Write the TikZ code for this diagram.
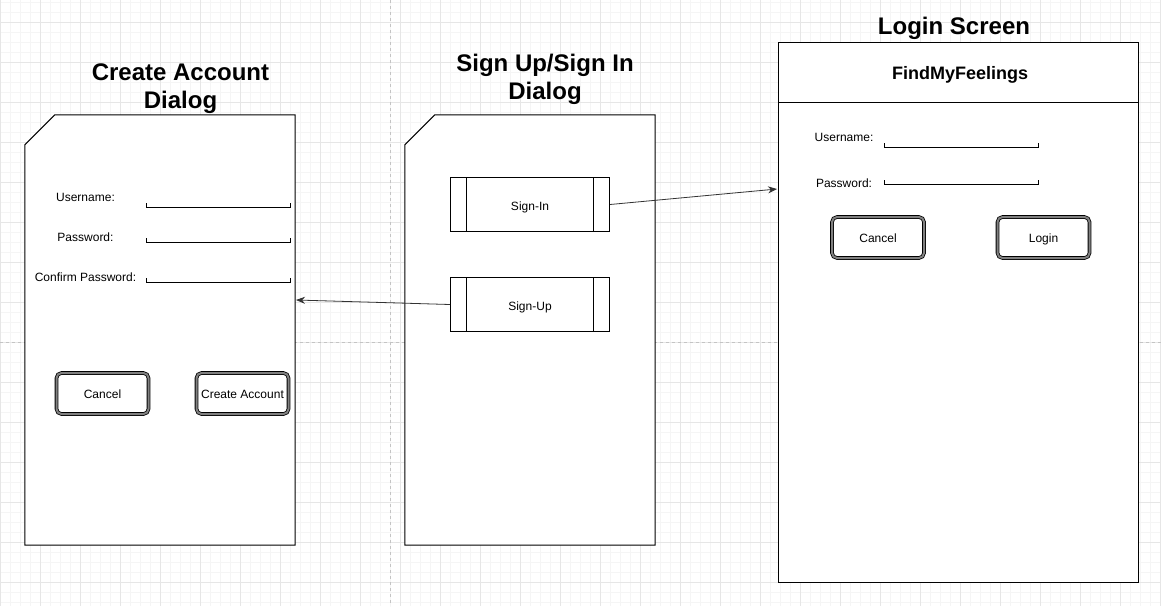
\documentclass[tikz,border=0pt]{standalone}
\usepackage{fontspec}
\setmainfont{Liberation Sans}
\usetikzlibrary{arrows.meta}
\definecolor{gridminor}{HTML}{F5F5F5}
\definecolor{gridmajor}{HTML}{E6E6E6}
\definecolor{pagebreak}{HTML}{C4C4C4}
\definecolor{btnband}{HTML}{808080}
\begin{document}
\begin{tikzpicture}[x=1pt,y=-1pt,
  heading/.style={font=\fontsize{24}{28}\selectfont\bfseries,align=center},
  fieldtext/.style={font=\fontsize{12}{14}\selectfont,anchor=base},
  field/.style={line width=1pt},
  frame/.style={line width=1pt,fill=white},
  btn/.style={draw,rounded corners=5pt,double=btnband,double distance=2pt,line width=0.8pt,minimum width=92pt,minimum height=41pt,text height=10.5pt,text depth=0pt,font=\fontsize{12}{14}\selectfont},
  proc/.style={draw,line width=1pt,fill=white,minimum width=159pt,minimum height=54pt,text height=11pt,text depth=0pt,font=\fontsize{12}{14}\selectfont},
  conn/.style={-{Stealth[length=9pt,width=7pt]},line width=0.8pt,black!80}]
\useasboundingbox (0,0) rectangle (1161,606);
\fill[white] (0,0) rectangle (1161,606);
% grid
\foreach \x in {0,10,...,1160} \draw[gridminor] (\x,0) -- (\x,606);
\foreach \y in {2,12,...,602} \draw[gridminor] (0,\y) -- (1161,\y);
\foreach \x in {0,40,...,1160} \draw[gridmajor] (\x,0) -- (\x,606);
\foreach \y in {22,62,...,582} \draw[gridmajor] (0,\y) -- (1161,\y);
\draw[pagebreak,dashed] (390,0) -- (390,606);
\draw[pagebreak,dashed] (0,342) -- (1161,342);

% create account dialog
\node[heading] (createtitle) at (180.5,89) {Create Account\\Dialog};
\node[minimum width=270pt,minimum height=430pt] (create) at (160,330) {};
\draw[frame] ([xshift=30pt]create.north west) -- (create.north east) -- (create.south east) -- (create.south west) -- ([yshift=-30pt]create.north west) -- cycle;
\node[fieldtext] (cuser) at (85.5,201.7) {Username:};
\draw[field] (146,203) |- (290,207) -- (290,203);
\node[fieldtext] (cpass) at (85.5,241.7) {Password:};
\draw[field] (146,238) |- (290,242) -- (290,238);
\node[fieldtext] (cconf) at (85.5,281.7) {Confirm Password:};
\draw[field] (146,278) |- (290,282) -- (290,278);
\node[btn] (ccancel) at (102.5,393.5) {Cancel};
\node[btn] (cmake) at (242.5,393.5) {Create Account};

% sign up / sign in dialog
\node[heading] (signtitle) at (545,79) {Sign Up/Sign In\\Dialog};
\node[minimum width=250pt,minimum height=430pt] (sign) at (530,330) {};
\draw[frame] ([xshift=30pt]sign.north west) -- (sign.north east) -- (sign.south east) -- (sign.south west) -- ([yshift=-30pt]sign.north west) -- cycle;
\node[proc] (signin) at (530,204.5) {Sign-In};
\draw[line width=1pt] ([xshift=16.5pt]signin.north west) -- ([xshift=16.5pt]signin.south west);
\draw[line width=1pt] ([xshift=-16.5pt]signin.north east) -- ([xshift=-16.5pt]signin.south east);
\node[proc] (signup) at (530,304.5) {Sign-Up};
\draw[line width=1pt] ([xshift=16.5pt]signup.north west) -- ([xshift=16.5pt]signup.south west);
\draw[line width=1pt] ([xshift=-16.5pt]signup.north east) -- ([xshift=-16.5pt]signup.south east);

% login screen
\node[heading] (logintitle) at (954,28) {Login Screen};
\node[draw,frame,minimum width=360pt,minimum height=540pt] (login) at (958,312) {};
\draw[line width=1pt] (778,102) -- (1138,102);
\node[font=\fontsize{18}{22}\selectfont\bfseries] (appname) at (960,75) {FindMyFeelings};
\node[fieldtext] (lguser) at (844,141.7) {Username:};
\draw[field] (884,143) |- (1038,147) -- (1038,143);
\node[fieldtext] (lgpass) at (844,187) {Password:};
\draw[field] (884,180) |- (1038,184) -- (1038,180);
\node[btn] (lgcancel) at (878,237.5) {Cancel};
\node[btn] (lglogin) at (1043.5,237.5) {Login};

% connectors
\coordinate (loginin) at (777,189);
\coordinate (createin) at (296,300);
\draw[conn] (signin.east) -- (loginin);
\draw[conn] (signup.west) -- (createin);
\end{tikzpicture}
\end{document}
